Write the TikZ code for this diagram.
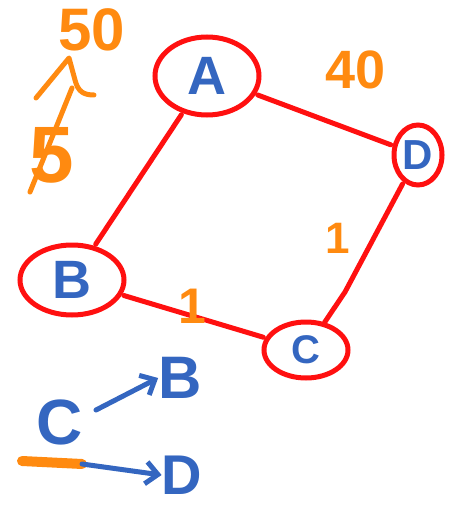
\documentclass[tikz,border=0pt]{standalone}
\usepackage{fontspec}
\setmainfont{Liberation Sans}
\usetikzlibrary{shapes.geometric,arrows.meta}
\definecolor{sred}{HTML}{FF1010}
\definecolor{sblue}{HTML}{3466C0}
\definecolor{sorange}{HTML}{FF8A10}
\tikzset{
  vert/.style={ellipse,draw=sred,line width=5pt,text=sblue,inner sep=0pt,font=\bfseries},
  edge/.style={draw=sred,line width=5pt,line cap=round},
  wlabel/.style={text=sorange,inner sep=0pt,font=\bfseries},
  bluetxt/.style={text=sblue,inner sep=0pt,font=\bfseries},
  bluearrow/.style={draw=sblue,line width=5pt,line cap=round,-{Straight Barb[length=12pt,width=22pt,line width=5pt]}},
}
\newcommand{\fs}[1]{\fontsize{#1}{#1}\selectfont}
\begin{document}
\begin{tikzpicture}[x=1pt,y=-1pt]
\useasboundingbox (0,0) rectangle (457,505);
% vertices
\node[vert,minimum width=104pt,minimum height=78pt] (A) at (207,76) {\fs{54}A};
\node[vert,minimum width=48pt,minimum height=60pt] (D) at (418,155) {\fs{42}D};
\node[vert,minimum width=104pt,minimum height=70pt] (B) at (72,280) {\fs{54}B};
\node[vert,minimum width=84pt,minimum height=56pt] (C) at (306,350) {\fs{40}C};
\coordinate (dc) at (345,292);
% edges
\draw[edge,shorten <=2pt,shorten >=2pt] (A) -- (B);
\draw[edge,shorten <=2pt,shorten >=2pt] (A) -- (D);
\draw[edge,shorten <=2pt] (D) -- (dc) -- (C);
\draw[edge,shorten <=2pt,shorten >=2pt] (B) -- (C);
% weights
\node[wlabel] (w40) at (356,70) {\fs{54}40};
\node[wlabel] (w1a) at (338,238) {\fs{44}1};
\node[wlabel] (w1b) at (192,306) {\fs{50}1};
% top-left note
\node[wlabel] (w50) at (92,30) {\fs{60}50};
\node[wlabel] (w5) at (52,155) {\fs{80}5};
\coordinate (s1) at (69,58);
\coordinate (s2) at (36,98);
\coordinate (s3) at (94,95);
\coordinate (s4) at (30,192);
\draw[draw=sorange,line width=5pt,line cap=round,line join=round] (s2) -- (s1) -- (75,80) .. controls (78,92) and (84,95) .. (s3);
\draw[draw=sorange,line width=5pt,line cap=round] (72,88) -- (s4);
% bottom-left legend
\node[bluetxt] (lc) at (60,422) {\fs{64}C};
\node[bluetxt] (lb) at (180,378) {\fs{60}B};
\node[bluetxt] (ld) at (182,475) {\fs{56}D};
\coordinate (o1) at (22,461);
\coordinate (o2) at (82,464);
\draw[draw=sorange,line width=10pt,line cap=round] (o1) -- (o2);
\draw[bluearrow] (96,410) -- (lb.west);
\draw[bluearrow] (o2) -- (ld.west);
\end{tikzpicture}
\end{document}
